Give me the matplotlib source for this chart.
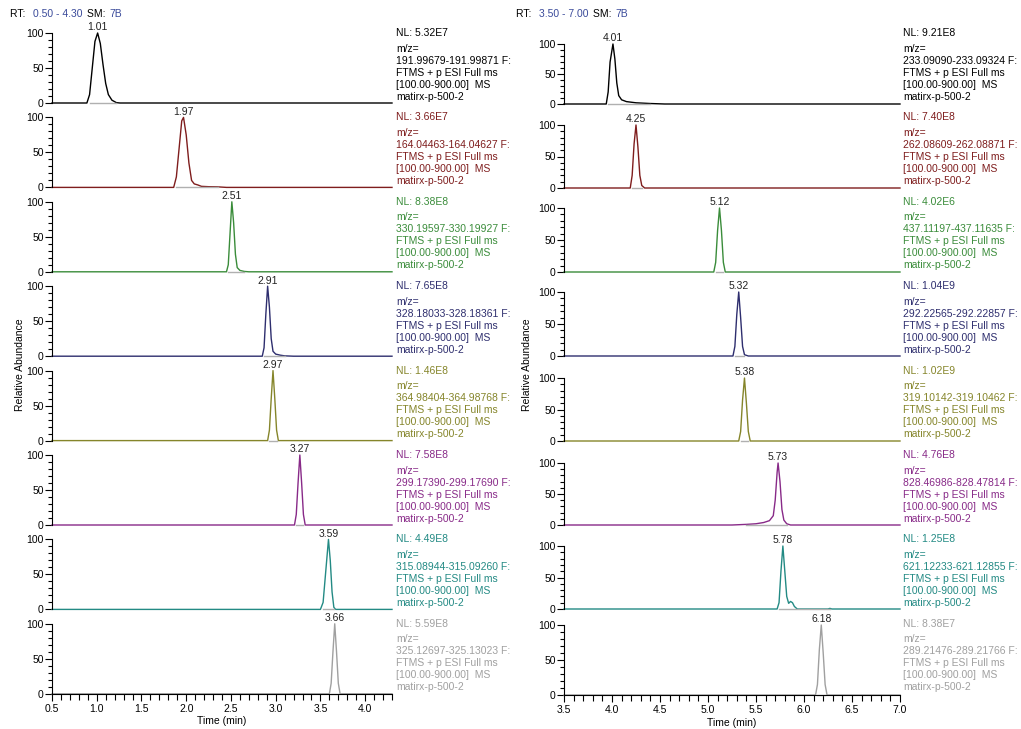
import matplotlib.pyplot as plt
from matplotlib.ticker import MultipleLocator

plt.rcParams['font.family'] = ['Liberation Sans', 'DejaVu Sans']

W, H = 1021, 729

# ---- data: left window (RT 0.50 - 4.30) ----
left_rt = [1.01, 1.97, 2.51, 2.91, 2.97, 3.27, 3.59, 3.66]
left_nl = ['5.32E7', '3.66E7', '8.38E8', '7.65E8', '1.46E8', '7.58E8', '4.49E8', '5.59E8']
left_mz = ['191.99679-191.99871', '164.04463-164.04627', '330.19597-330.19927',
           '328.18033-328.18361', '364.98404-364.98768', '299.17390-299.17690',
           '315.08944-315.09260', '325.12697-325.13023']
left_t = [
    [0.5, 0.89, 0.92, 0.95, 0.98, 1.01, 1.04, 1.07, 1.10, 1.13, 1.17, 1.22, 1.26, 4.3],
    [0.5, 1.86, 1.89, 1.92, 1.95, 1.97, 2.00, 2.03, 2.06, 2.09, 2.13, 2.17, 2.25, 2.35, 2.45, 4.3],
    [0.5, 2.45, 2.47, 2.49, 2.51, 2.53, 2.55, 2.57, 2.60, 2.65, 2.70, 4.3],
    [0.5, 2.85, 2.87, 2.89, 2.91, 2.93, 2.95, 2.97, 3.00, 3.05, 3.10, 3.20, 4.3],
    [0.5, 2.91, 2.93, 2.95, 2.97, 2.99, 3.01, 3.03, 4.3],
    [0.5, 3.21, 3.23, 3.25, 3.27, 3.29, 3.31, 3.33, 4.3],
    [0.5, 3.50, 3.53, 3.56, 3.59, 3.61, 3.63, 3.65, 3.67, 4.3],
    [0.5, 3.60, 3.62, 3.64, 3.66, 3.68, 3.70, 3.72, 4.3],
]
left_i = [
    [0, 0, 12, 50, 88, 100, 85, 55, 28, 12, 4, 0.5, 0, 0],
    [0, 0, 15, 55, 95, 100, 75, 35, 10, 5, 3.5, 1.5, 1, 0.8, 0, 0],
    [0, 0, 10, 55, 100, 70, 25, 6, 2, 0.5, 0, 0],
    [0, 0, 12, 60, 100, 70, 25, 7, 3, 1.5, 0.5, 0, 0],
    [0, 0, 15, 60, 100, 60, 15, 0, 0],
    [0, 0, 15, 60, 100, 60, 15, 0, 0],
    [0, 0, 10, 55, 100, 70, 25, 3, 0, 0],
    [0, 0, 15, 60, 100, 60, 15, 0, 0],
]

# ---- data: right window (RT 3.50 - 7.00) ----
right_rt = [4.01, 4.25, 5.12, 5.32, 5.38, 5.73, 5.78, 6.18]
right_nl = ['9.21E8', '7.40E8', '4.02E6', '1.04E9', '1.02E9', '4.76E8', '1.25E8', '8.38E7']
right_mz = ['233.09090-233.09324', '262.08609-262.08871', '437.11197-437.11635',
            '292.22565-292.22857', '319.10142-319.10462', '828.46986-828.47814',
            '621.12233-621.12855', '289.21476-289.21766']
right_t = [
    [3.5, 3.94, 3.96, 3.98, 4.01, 4.03, 4.05, 4.07, 4.10, 4.15, 4.25, 4.40, 4.55, 7.0],
    [3.5, 4.19, 4.21, 4.23, 4.25, 4.27, 4.29, 4.31, 4.34, 7.0],
    [3.5, 5.06, 5.08, 5.10, 5.12, 5.14, 5.16, 5.18, 7.0],
    [3.5, 5.26, 5.28, 5.30, 5.32, 5.34, 5.36, 5.38, 5.42, 7.0],
    [3.5, 5.32, 5.34, 5.36, 5.38, 5.40, 5.42, 5.44, 7.0],
    [3.5, 5.25, 5.40, 5.50, 5.58, 5.64, 5.68, 5.70, 5.72, 5.73, 5.75, 5.77, 5.79, 5.82, 5.86, 7.0],
    [3.5, 5.72, 5.74, 5.76, 5.78, 5.80, 5.82, 5.84, 5.86, 5.88, 5.90, 5.93, 6.25, 6.27, 6.29, 7.0],
    [3.5, 6.12, 6.14, 6.16, 6.18, 6.20, 6.22, 6.24, 7.0],
]
right_i = [
    [0, 0, 20, 70, 100, 75, 35, 14, 7, 4, 2, 0.8, 0, 0],
    [0, 0, 20, 70, 100, 65, 20, 4, 0, 0],
    [0, 0, 15, 65, 100, 65, 15, 0, 0],
    [0, 0, 15, 65, 100, 60, 15, 2, 0, 0],
    [0, 0, 15, 65, 100, 60, 15, 0, 0],
    [0, 0, 1, 2, 4, 7, 15, 40, 85, 100, 70, 25, 8, 2, 0, 0],
    [0, 0, 10, 60, 100, 60, 20, 9, 12, 10, 4, 0, 0, 1, 0, 0],
    [0, 0, 15, 65, 100, 60, 15, 0, 0],
]

colors = ['#000000', '#7f1d1d', '#3a8c3a', '#2e2e6e', '#85852a', '#882a88', '#238a84', '#a0a0a0']

fig = plt.figure(figsize=(W / 100, H / 100), dpi=100)


def draw_column(x0, x1, xlim, top100, zero, rts, nls, mzs, ts, ints, text_x):
    for k in range(8):
        ax = fig.add_axes([x0 / W, 1 - zero[k] / H, (x1 - x0) / W, (zero[k] - top100[k]) / H])
        c = colors[k]
        ax.plot(ts[k], ints[k], color=c, lw=1.0, clip_on=False)
        # integrated region drawn grey on the baseline
        nz = [t for t, v in zip(ts[k], ints[k]) if v > 0]
        ax.plot([min(nz), max(nz)], [0, 0], color='#b0b0b0', lw=1.0, clip_on=False)
        ax.set_xlim(*xlim)
        ax.set_ylim(0, 100)
        for s in ['top', 'right']:
            ax.spines[s].set_visible(False)
        ax.spines['left'].set_linewidth(0.8)
        ax.yaxis.set_major_locator(MultipleLocator(50))
        ax.yaxis.set_minor_locator(MultipleLocator(10))
        ax.tick_params(axis='y', which='major', length=5, width=0.8, labelsize=7.5, pad=1)
        ax.tick_params(axis='y', which='minor', length=3, width=0.8)
        ax.text(rts[k], 101, f'{rts[k]:.2f}', ha='center', va='bottom', fontsize=7.5, color='#222222')
        if k < 7:
            ax.spines['bottom'].set_visible(False)
            ax.set_xticks([])
        else:
            ax.spines['bottom'].set_linewidth(0.8)
            ax.xaxis.set_major_locator(MultipleLocator(0.5))
            ax.xaxis.set_minor_locator(MultipleLocator(0.1))
            ax.xaxis.set_major_formatter('{x:.1f}')
            ax.tick_params(axis='x', which='major', length=5, width=0.8, labelsize=7.5, pad=2)
            ax.tick_params(axis='x', which='minor', length=4, width=0.8)
            ax.set_xlabel('Time (min)', fontsize=7.5, labelpad=2)
        ynl = 33 + 84.4 * k
        fig.text(text_x / W, 1 - ynl / H, f'NL: {nls[k]}', color=c, fontsize=7.5, va='center')
        lines = ['m/z=', f'{mzs[k]} F:', 'FTMS + p ESI Full ms', '[100.00-900.00]  MS', 'matirx-p-500-2']
        for j, ln in enumerate(lines):
            fig.text(text_x / W, 1 - (ynl + 15.5 + 12 * j) / H, ln, color=c, fontsize=7.5, va='center')


left_top = [33 + 84.4 * k for k in range(8)]
left_zero = [103 + 84.4 * k for k in range(8)]
right_top = [44, 125, 208, 292, 378, 463, 546, 625]
right_zero = [104, 188, 272, 356, 441, 525, 609, 695]

draw_column(52, 392, (0.5, 4.3), left_top, left_zero, left_rt, left_nl, left_mz, left_t, left_i, 396)
draw_column(564, 900, (3.5, 7.0), right_top, right_zero, right_rt, right_nl, right_mz, right_t, right_i, 903)

blue = '#3a4a9a'
for x, a, b in [(10, '0.50', '4.30'), (516, '3.50', '7.00')]:
    y = 1 - 14 / H
    t1 = fig.text(x / W, y, 'RT: ', fontsize=7.5, va='center')
    fig.text((x + 23) / W, y, f'{a} - {b}', fontsize=7.5, va='center', color=blue)
    fig.text((x + 77) / W, y, 'SM: ', fontsize=7.5, va='center')
    fig.text((x + 99) / W, y, '7B', fontsize=7.5, va='center', color=blue)

fig.text(20 / W, 1 - 365 / H, 'Relative Abundance', rotation=90, fontsize=7.5, ha='center', va='center')
fig.text(527 / W, 1 - 365 / H, 'Relative Abundance', rotation=90, fontsize=7.5, ha='center', va='center')

fig.savefig('out.png', dpi=100)
